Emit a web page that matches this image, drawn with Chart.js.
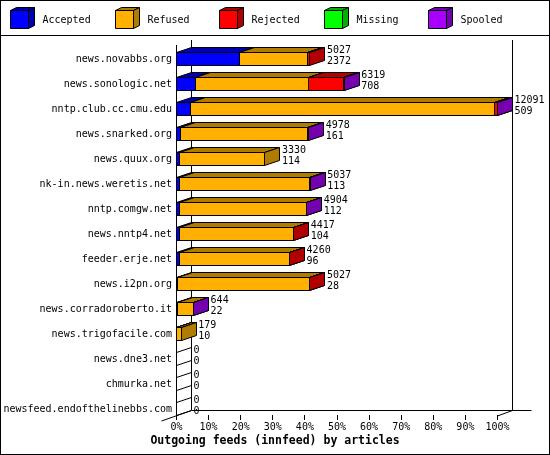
<!DOCTYPE html>
<html>
<head>
<meta charset="utf-8">
<script src="https://cdn.jsdelivr.net/npm/chart.js@4/dist/chart.umd.min.js"></script>
<style>
  html, body { margin: 0; padding: 0; background: #fff; }
  #wrap { width: 550px; height: 455px; }
</style>
</head>
<body>
<div id="wrap"><canvas id="feeds" width="550" height="455"></canvas></div>
<script>
// hosts (categories)
const hosts = [
  "news.novabbs.org", "news.sonologic.net", "nntp.club.cc.cmu.edu",
  "news.snarked.org", "news.quux.org", "nk-in.news.weretis.net",
  "nntp.comgw.net", "news.nntp4.net", "feeder.erje.net", "news.i2pn.org",
  "news.corradoroberto.it", "news.trigofacile.com", "news.dne3.net",
  "chmurka.net", "newsfeed.endofthelinebbs.com"
];
// article counts per host
const offered  = [5027, 6319, 12091, 4978, 3330, 5037, 4904, 4417, 4260, 5027, 644, 179, 0, 0, 0];
const accepted = [2372, 708, 509, 161, 114, 113, 112, 104, 96, 28, 22, 10, 0, 0, 0];
const refused  = [2580, 4279, 11479, 4790, 3216, 4909, 4782, 4293, 4149, 4979, 600, 169, 0, 0, 0];
const rejected = [75, 1322, 90, 0, 0, 0, 0, 20, 15, 20, 0, 0, 0, 0, 0];
const missing  = [0, 0, 0, 0, 0, 0, 0, 0, 0, 0, 0, 0, 0, 0, 0];
const spooled  = [0, 10, 13, 27, 0, 15, 10, 0, 0, 0, 22, 0, 0, 0, 0];

const seriesNames = ["Accepted", "Refused", "Rejected", "Missing", "Spooled"];
const xTicks = [0, 10, 20, 30, 40, 50, 60, 70, 80, 90, 100];
const axisTitle = "Outgoing feeds (innfeed) by articles";

const frontColors = ["#0000ff", "#ffb000", "#ff0000", "#00ff00", "#a800ff"];
const shadeColors = ["#0000b0", "#b07c00", "#b00000", "#00b000", "#7400b0"];

const MONO = "'DejaVu Sans Mono', 'Liberation Mono', monospace";
const DX = 15, DY = -5;   // depth of the 3d boxes
const px = v => Math.floor(v) + 0.5;

// bars are scaled against the busiest peer
const maxOffered = Math.max(...offered);
const pct = arr => arr.map(v => v / maxOffered * 100);
const series = [accepted, refused, rejected, missing, spooled];

function poly(ctx, pts, fill) {
  ctx.beginPath();
  ctx.moveTo(pts[0][0], pts[0][1]);
  for (let k = 1; k < pts.length; k++) ctx.lineTo(pts[k][0], pts[k][1]);
  ctx.closePath();
  if (fill) { ctx.fillStyle = fill; ctx.fill(); }
  ctx.stroke();
}

function line(ctx, x0, y0, x1, y1) {
  ctx.beginPath();
  ctx.moveTo(x0, y0);
  ctx.lineTo(x1, y1);
  ctx.stroke();
}

function box3d(ctx, x0, x1, top, bot, dx, dy, front, shade) {
  poly(ctx, [[x0, top], [x1, top], [x1, bot], [x0, bot]], front);
  poly(ctx, [[x0, top], [x1, top], [x1 + dx, top + dy], [x0 + dx, top + dy]], shade);
  poly(ctx, [[x1, top], [x1 + dx, top + dy], [x1 + dx, bot + dy], [x1, bot]], shade);
}

const innreport3d = {
  id: "innreport3d",
  beforeDraw(chart) {
    const ctx = chart.ctx;
    ctx.save();
    ctx.fillStyle = "#fff";
    ctx.fillRect(0, 0, chart.width, chart.height);
    ctx.restore();
  },
  beforeDatasetsDraw(chart) {
    const ctx = chart.ctx;
    const xs = chart.scales.x;
    const {left, top, bottom} = chart.chartArea;
    const L = px(xs.getPixelForValue(0));
    const R = px(xs.getPixelForValue(100));
    const fTop = Math.round(top - 1.5), fBot = Math.round(bottom - 6.5);
    ctx.save();
    ctx.strokeStyle = "#000";
    ctx.lineWidth = 1;
    // back wall + floor edges
    line(ctx, L + DX, fTop + DY, L + DX, fBot + DY);
    line(ctx, R + DX, fTop + DY, R + DX, fBot + DY + 0.5);
    line(ctx, L + DX, fBot + DY + 0.5, R + DX + 19, fBot + DY + 0.5);
    line(ctx, L + DX, fBot + DY + 0.5, L - DX, fBot - DY + 1);
    line(ctx, R, fBot + 1, R + DX, fBot + DY + 0.5);
    // front axis and ticks
    line(ctx, L, fTop, L, fBot);
    xTicks.forEach(t => {
      const x = px(xs.getPixelForValue(t));
      line(ctx, x, fBot, x, fBot + 5);
    });

    // the bars, segment after segment so the later faces cover the earlier ones
    ctx.font = "10px " + MONO;
    ctx.textBaseline = "middle";
    ctx.textAlign = "left";
    hosts.forEach((h, j) => {
      let el0 = chart.getDatasetMeta(0).data[j];
      const cy = el0.y, hh = el0.height / 2;
      const t = px(cy - hh), b = px(cy + hh);
      let drawn = false;
      series.forEach((s, i) => {
        if (!s[j]) return;
        const el = chart.getDatasetMeta(i).data[j];
        box3d(ctx, px(el.base), px(el.x), t, b, DX, DY, frontColors[i], shadeColors[i]);
        drawn = true;
      });
      if (!drawn) {
        line(ctx, L, t, L + DX, t + DY);
        line(ctx, L, b, L + DX, b + DY);
      }
      const endX = xs.getPixelForValue(offered[j] / maxOffered * 100);
      ctx.fillStyle = "#000";
      ctx.fillText(String(offered[j]), endX + DX + 2, cy - 9);
      ctx.fillText(String(accepted[j]), endX + DX + 2, cy + 2.5);
    });
    ctx.restore();
    return false;
  },
  afterDraw(chart) {
    const ctx = chart.ctx;
    const W = chart.width, H = chart.height;
    ctx.save();
    ctx.strokeStyle = "#000";
    ctx.lineWidth = 1;
    // legend
    const slot = (W - 27) / seriesNames.length;
    ctx.font = "10px " + MONO;
    ctx.textBaseline = "middle";
    ctx.textAlign = "left";
    seriesNames.forEach((name, i) => {
      const x0 = Math.round(10 + i * slot) + 0.5;
      box3d(ctx, x0, x0 + 18, 10.5, 28.5, 6, -3, frontColors[i], shadeColors[i]);
      ctx.fillStyle = "#000";
      ctx.fillText(name, x0 + 32, 20);
    });
    line(ctx, 0, 35.5, W, 35.5);
    ctx.strokeRect(0.5, 0.5, W - 1, H - 1);
    ctx.restore();
  }
};

new Chart(document.getElementById("feeds"), {
  type: "bar",
  data: {
    labels: hosts,
    datasets: series.map((s, i) => ({
      label: seriesNames[i],
      data: pct(s),
      backgroundColor: frontColors[i],
      borderColor: "#000",
      borderWidth: 1
    }))
  },
  options: {
    indexAxis: "y",
    responsive: false,
    animation: false,
    devicePixelRatio: 1,
    categoryPercentage: 1,
    barPercentage: 0.5,
    layout: { padding: { top: 46.5, left: 0, right: 0, bottom: 0 } },
    plugins: {
      legend: { display: false },
      tooltip: { enabled: false },
      title: {
        display: true,
        position: "bottom",
        text: axisTitle,
        color: "#000",
        font: { family: MONO, size: 11.5, weight: "bold" },
        padding: { top: 0, bottom: 7 }
      }
    },
    scales: {
      x: {
        type: "linear",
        stacked: true,
        min: 0,
        max: 100,
        afterBuildTicks: s => { s.ticks = xTicks.map(v => ({ value: v })); },
        ticks: {
          callback: v => v + "%",
          color: "#000",
          font: { family: MONO, size: 10 },
          padding: 0,
          autoSkip: false,
          maxRotation: 0
        },
        grid: { display: false, drawTicks: false },
        border: { display: false },
        afterFit: s => { s.height = 12.7; }
      },
      y: {
        stacked: true,
        ticks: {
          color: "#000",
          font: { family: MONO, size: 10 },
          padding: 4.5,
          autoSkip: false
        },
        grid: { display: false, drawTicks: false },
        border: { display: false },
        afterFit: s => { s.width = 176.5; }
      },
      pad: {
        position: "right",
        display: true,
        grid: { display: false, drawTicks: false },
        ticks: { display: false },
        border: { display: false },
        afterFit: s => { s.width = 52.5; }
      }
    }
  },
  plugins: [innreport3d]
});
</script>
</body>
</html>
